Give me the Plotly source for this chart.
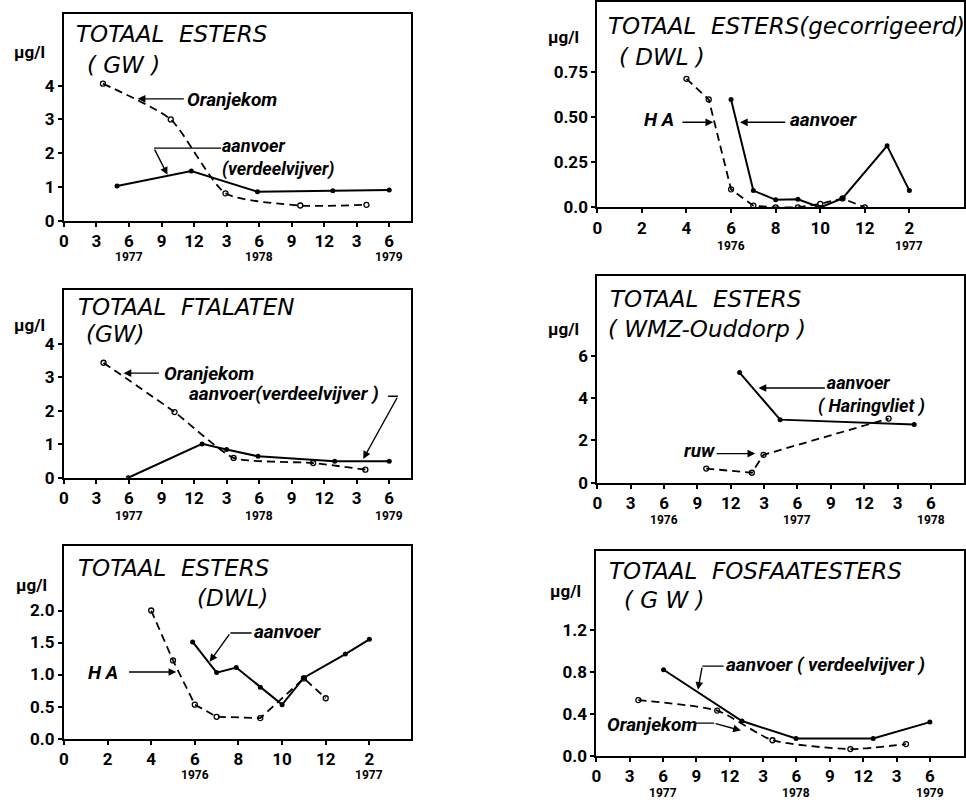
import plotly.graph_objects as go

W, H = 966, 811

# ---- data (x in months from the first tick, y in µg/l) ----
# Totaal esters (GW)
gw_est_oranje_x = [3.6, 9.85, 14.9, 21.8, 27.9]
gw_est_oranje_y = [4.06, 3.0, 0.81, 0.45, 0.47]
gw_est_aanvoer_x = [4.9, 11.75, 17.85, 24.8, 30.0]
gw_est_aanvoer_y = [1.03, 1.47, 0.86, 0.89, 0.91]

# Totaal esters gecorrigeerd (DWL)
dwl_corr_ha_x = [4, 5, 6, 7, 8, 9, 10, 11, 12]
dwl_corr_ha_y = [0.71, 0.596, 0.10, 0.01, 0.0, 0.0, 0.02, 0.05, 0.0]
dwl_corr_aanvoer_x = [6, 7, 8, 9, 10, 11, 13, 14]
dwl_corr_aanvoer_y = [0.596, 0.093, 0.042, 0.045, 0.0, 0.05, 0.34, 0.093]

# Totaal ftalaten (GW)
gw_fta_oranje_x = [3.65, 10.2, 15.65, 22.98, 27.8]
gw_fta_oranje_y = [3.43, 1.96, 0.59, 0.44, 0.24]
gw_fta_aanvoer_x = [5.93, 12.74, 15.0, 17.9, 24.97, 30.0]
gw_fta_aanvoer_y = [0.0, 1.01, 0.84, 0.64, 0.49, 0.49]

# Totaal esters (WMZ-Ouddorp)
wmz_aanvoer_x = [12.8, 16.44, 28.5]
wmz_aanvoer_y = [5.22, 2.99, 2.76]
wmz_ruw_x = [9.8, 13.9, 14.95, 26.2]
wmz_ruw_y = [0.67, 0.47, 1.32, 3.04]

# Totaal esters (DWL)
dwl_ha_x = [4, 5, 6, 7, 9, 11, 12]
dwl_ha_y = [2.0, 1.22, 0.53, 0.34, 0.32, 0.94, 0.63]
dwl_aanvoer_x = [5.9, 7, 7.9, 9, 10, 11, 12.9, 14]
dwl_aanvoer_y = [1.51, 1.03, 1.11, 0.8, 0.53, 0.95, 1.32, 1.55]

# Totaal fosfaatesters (GW)
gw_fos_aanvoer_x = [6.05, 13.1, 17.96, 24.9, 30.0]
gw_fos_aanvoer_y = [0.82, 0.33, 0.163, 0.163, 0.32]
gw_fos_oranje_x = [3.78, 10.87, 15.85, 22.85, 27.85]
gw_fos_oranje_y = [0.53, 0.43, 0.147, 0.063, 0.11]

# ---- tick labels ----
quarter_vals = list(range(0, 31, 3))
quarter_text = ["0", "3", "6", "9", "12", "3", "6", "9", "12", "3", "6"]
bimonth_vals = list(range(0, 15, 2))
bimonth_text = ["0", "2", "4", "6", "8", "10", "12", "2"]

ytick_gw_est = ([0, 1, 2, 3, 4], ["0", "1", "2", "3", "4"])
ytick_dwl_corr = ([0, 0.25, 0.5, 0.75], ["0.0", "0.25", "0.50", "0.75"])
ytick_gw_fta = ([0, 1, 2, 3, 4], ["0", "1", "2", "3", "4"])
ytick_wmz = ([0, 2, 4, 6], ["0", "2", "4", "6"])
ytick_dwl = ([0, 0.5, 1.0, 1.5, 2.0], ["0.0", "0.5", "1.0", "1.5", "2.0"])
ytick_gw_fos = ([0, 0.4, 0.8, 1.2], ["0.0", "0.4", "0.8", "1.2"])

years_1977_79 = ([6, 18, 30], ["1977", "1978", "1979"])
years_1976_78 = ([6, 18, 30], ["1976", "1977", "1978"])
years_1976_77 = ([6, 14], ["1976", "1977"])

# ---- panel geometry (pixel boxes: left, top, right, bottom) ----
panels = [
    dict(box=(59.3, 13, 409, 222.7), xr=32.05, yr=6.13, xt=(quarter_vals, quarter_text),
         yt=ytick_gw_est, years=years_1977_79, yshift=36,
         title=("TOTAAL\u00a0\u00a0ESTERS", (70, 33)), sub=("(\u00a0GW\u00a0)", (82, 65)), unit=(8, 52)),
    dict(box=(596, 1, 965, 209.3), xr=16.45, yr=1.134, xt=(bimonth_vals, bimonth_text),
         yt=ytick_dwl_corr, years=years_1976_77, yshift=39,
         title=("TOTAAL\u00a0\u00a0ESTERS(gecorrigeerd)", (606, 25)), sub=("(\u00a0DWL\u00a0)", (617, 57)), unit=(545, 37)),
    dict(box=(59.3, 293, 409, 483.3), xr=32.05, yr=5.6, xt=(quarter_vals, quarter_text),
         yt=ytick_gw_fta, years=years_1977_79, yshift=38,
         title=("TOTAAL\u00a0\u00a0FTALATEN", (72, 310)), sub=("(GW)", (80, 338)), unit=(8, 328)),
    dict(box=(596, 279, 965, 488.3), xr=32.98, yr=9.79, xt=(quarter_vals, quarter_text),
         yt=ytick_wmz, years=years_1976_78, yshift=37,
         title=("TOTAAL\u00a0\u00a0ESTERS", (608, 302)), sub=("(\u00a0WMZ-Ouddorp\u00a0)", (606, 333)), unit=(545, 333)),
    dict(box=(59.3, 553, 409, 747.7), xr=15.93, yr=3.0, xt=(bimonth_vals, bimonth_text),
         yt=ytick_dwl, years=years_1976_77, yshift=36.5,
         title=("TOTAAL\u00a0\u00a0ESTERS", (72, 575)), sub=("(DWL)", (192, 605)), unit=(10, 592)),
    dict(box=(595, 558, 965, 765), xr=33.07, yr=1.95, xt=(quarter_vals, quarter_text),
         yt=ytick_gw_fos, years=years_1977_79, yshift=37,
         title=("TOTAAL\u00a0\u00a0FOSFAATESTERS", (607, 578)), sub=("(\u00a0G\u00a0W\u00a0)", (622, 607)), unit=(547, 598)),
]

TICK_FONT = dict(family="Roboto, DejaVu Sans", size=17, color="black", weight="bold")
YEAR_FONT = dict(family="Roboto, DejaVu Sans", size=12, color="black", weight="bold")
TITLE_FONT = dict(family="DejaVu Sans", size=23, color="black", style="italic")
UNIT_FONT = dict(family="Roboto, DejaVu Sans", size=17, color="black", weight="bold")
LABEL_FONT = dict(family="Roboto, DejaVu Sans", size=19, color="black", weight="bold", style="italic")
LABEL_FONT_2LINE = dict(LABEL_FONT, size=18)

fig = go.Figure()
annotations = []
shapes = []


def ax_names(i):
    s = "" if i == 1 else str(i)
    return "x" + s, "y" + s


def solid(i, xs, ys):
    xa, ya = ax_names(i)
    fig.add_trace(go.Scatter(x=xs, y=ys, xaxis=xa, yaxis=ya, mode="lines+markers",
                             line=dict(color="black", width=2),
                             marker=dict(symbol="circle", size=5, color="black"),
                             showlegend=False, hoverinfo="skip"))


def dashed(i, xs, ys, smooth=0.0):
    xa, ya = ax_names(i)
    line = dict(color="black", width=1.8, dash="8px,5px")
    if smooth:
        line.update(shape="spline", smoothing=smooth)
    fig.add_trace(go.Scatter(x=xs, y=ys, xaxis=xa, yaxis=ya, mode="lines+markers",
                             line=line,
                             marker=dict(symbol="circle-open", size=5, color="black",
                                         line=dict(width=1.3, color="black")),
                             showlegend=False, hoverinfo="skip"))


def label(i, text, x, y, font=LABEL_FONT):
    xa, ya = ax_names(i)
    annotations.append(dict(text=text, x=x, y=y, xref=xa, yref=ya, xanchor="left",
                            yanchor="middle", align="left", showarrow=False, font=font,
                            borderpad=0))


def arrow(i, tail, head):
    xa, ya = ax_names(i)
    annotations.append(dict(text="", x=head[0], y=head[1], ax=tail[0], ay=tail[1],
                            xref=xa, yref=ya, axref=xa, ayref=ya, showarrow=True,
                            arrowhead=2, arrowsize=1.1, arrowwidth=1.4, arrowcolor="black",
                            standoff=0, startstandoff=0))


def leader(i, p0, p1):
    xa, ya = ax_names(i)
    shapes.append(dict(type="line", xref=xa, yref=ya, x0=p0[0], y0=p0[1], x1=p1[0], y1=p1[1],
                       line=dict(color="black", width=1.4)))


# series
dashed(1, gw_est_oranje_x, gw_est_oranje_y, smooth=0.6)
solid(1, gw_est_aanvoer_x, gw_est_aanvoer_y)
dashed(2, dwl_corr_ha_x, dwl_corr_ha_y)
solid(2, dwl_corr_aanvoer_x, dwl_corr_aanvoer_y)
dashed(3, gw_fta_oranje_x, gw_fta_oranje_y, smooth=0.5)
solid(3, gw_fta_aanvoer_x, gw_fta_aanvoer_y)
solid(4, wmz_aanvoer_x, wmz_aanvoer_y)
dashed(4, wmz_ruw_x, wmz_ruw_y)
dashed(5, dwl_ha_x, dwl_ha_y)
solid(5, dwl_aanvoer_x, dwl_aanvoer_y)
solid(6, gw_fos_aanvoer_x, gw_fos_aanvoer_y)
dashed(6, gw_fos_oranje_x, gw_fos_oranje_y, smooth=0.6)

# series labels with pointers
label(1, "Oranjekom", 11.3, 3.59)
arrow(1, (11.2, 3.61), (6.8, 3.61))
label(1, "aanvoer<br>(verdeelvijver)", 14.45, 1.88, LABEL_FONT_2LINE)
leader(1, (14.5, 2.15), (8.3, 2.15))
arrow(1, (8.3, 2.15), (9.55, 1.36))

label(2, "H\u00a0A", 2.05, 0.483)
arrow(2, (3.75, 0.47), (5.2, 0.47))
label(2, "aanvoer", 8.6, 0.483)
arrow(2, (8.5, 0.47), (6.4, 0.47))

label(3, "Oranjekom", 9.1, 3.12)
arrow(3, (8.9, 3.12), (5.5, 3.12))
label(3, "aanvoer(verdeelvijver\u00a0)", 11.45, 2.5)
leader(3, (29.9, 2.43), (30.8, 2.43))
arrow(3, (30.8, 2.43), (27.6, 0.56))

label(4, "\u00a0\u00a0aanvoer<br>(\u00a0Haringvliet\u00a0)", 19.8, 4.2, LABEL_FONT_2LINE)
arrow(4, (20.6, 4.49), (14.5, 4.49))
label(4, "ruw", 7.7, 1.51)
arrow(4, (10.6, 1.38), (14.2, 1.38))

label(5, "aanvoer", 8.65, 1.67)
leader(5, (8.6, 1.65), (7.63, 1.65))
arrow(5, (7.63, 1.65), (6.68, 1.2))
label(5, "H\u00a0A", 1.05, 1.03)
arrow(5, (2.92, 1.04), (5.15, 1.04))

label(6, "aanvoer\u00a0(\u00a0verdeelvijver\u00a0)", 11.6, 0.87)
leader(6, (11.45, 0.855), (9.53, 0.855))
arrow(6, (9.53, 0.855), (9.14, 0.63))
label(6, "Oranjekom", 0.85, 0.30)
leader(6, (8.95, 0.31), (10.6, 0.31))
arrow(6, (10.6, 0.31), (13.0, 0.24))

layout = dict(width=W, height=H, margin=dict(l=0, r=0, t=0, b=0),
              paper_bgcolor="white", plot_bgcolor="white", showlegend=False)

for i, p in enumerate(panels, start=1):
    L, T, R, B = p["box"]
    s = "" if i == 1 else str(i)
    xa, ya = ax_names(i)
    axis_common = dict(showline=True, linewidth=2, linecolor="black", mirror=True,
                       showgrid=False, zeroline=False, ticks="outside", ticklen=4,
                       tickwidth=2, tickcolor="black", tickfont=TICK_FONT, fixedrange=True)
    layout["xaxis" + s] = dict(domain=[L / W, R / W], range=[0, p["xr"]], anchor=ya,
                               tickmode="array", tickvals=p["xt"][0], ticktext=p["xt"][1],
                               **axis_common)
    layout["yaxis" + s] = dict(domain=[1 - B / H, 1 - T / H], range=[0, p["yr"]], anchor=xa,
                               tickmode="array", tickvals=p["yt"][0], ticktext=p["yt"][1],
                               **axis_common)
    # years under the month ticks
    for xv, yt in zip(*p["years"]):
        annotations.append(dict(text=yt, x=xv, y=0, xref=xa, yref=ya + " domain",
                                yshift=-p["yshift"], xanchor="center", yanchor="middle",
                                showarrow=False, font=YEAR_FONT, borderpad=0))
    # panel title, subtitle and unit
    for txt, (px, py) in (p["title"], p["sub"]):
        annotations.append(dict(text=txt, x=px / W, y=1 - py / H, xref="paper", yref="paper",
                                xanchor="left", yanchor="middle", showarrow=False,
                                font=TITLE_FONT, borderpad=0))
    ux, uy = p["unit"]
    annotations.append(dict(text="µg/l", x=ux / W, y=1 - uy / H, xref="paper", yref="paper",
                            xanchor="left", yanchor="middle", showarrow=False,
                            font=UNIT_FONT, borderpad=0))

layout["annotations"] = annotations
layout["shapes"] = shapes
fig.update_layout(**layout)
fig.write_html("out.html")
